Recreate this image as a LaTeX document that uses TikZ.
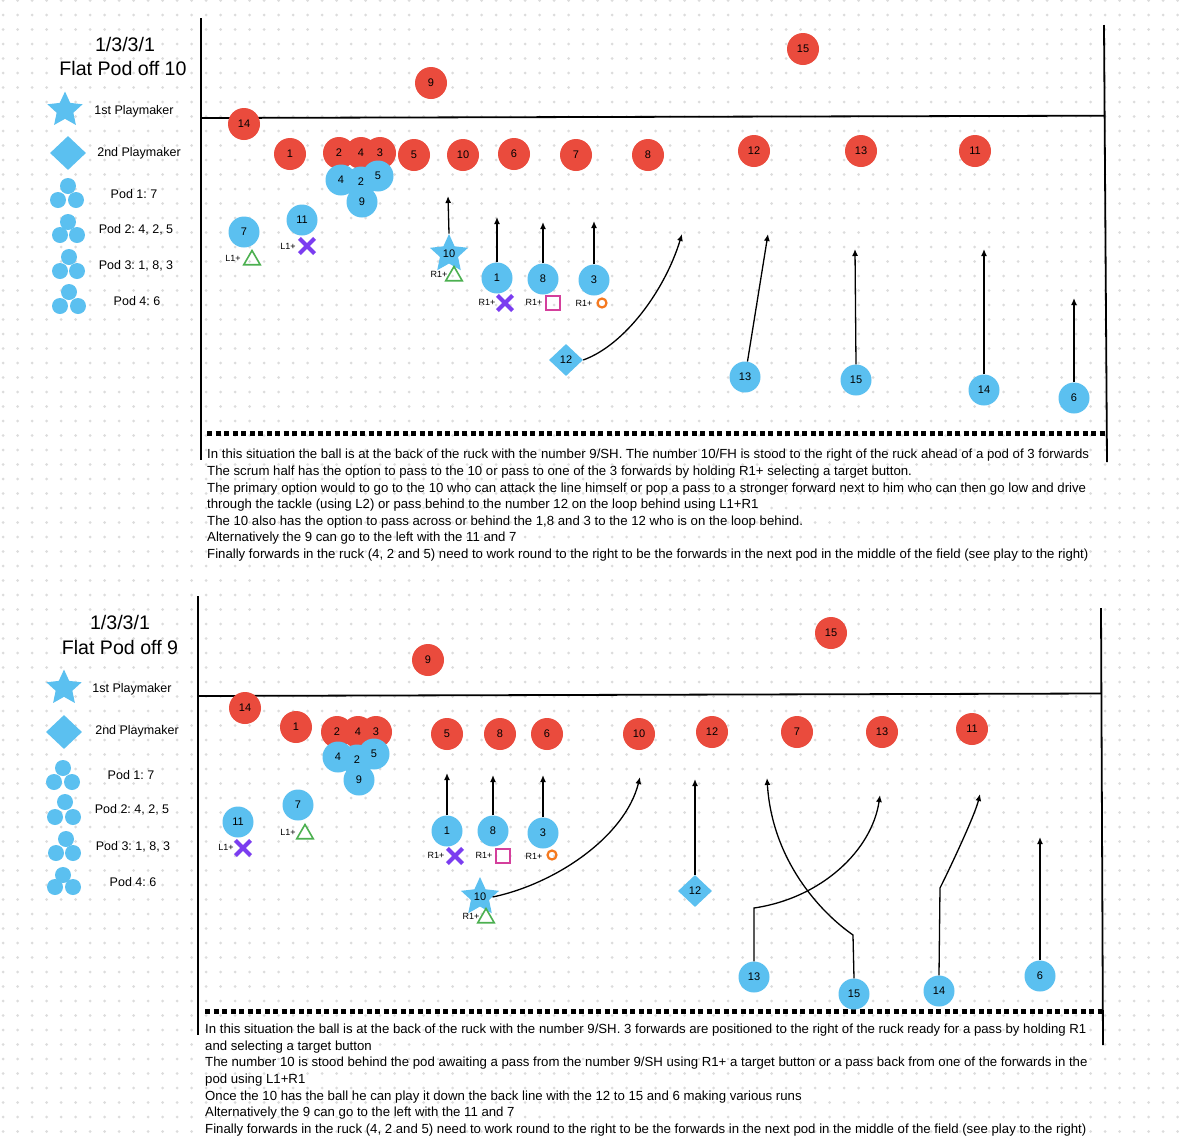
\documentclass[tikz,border=0pt]{standalone}
\usepackage{fontspec}
\setmainfont{Liberation Sans}
\usetikzlibrary{shapes.geometric,shapes.misc,arrows.meta}
\frenchspacing
\definecolor{rd}{HTML}{EA4B3D}
\definecolor{bl}{HTML}{5BC0F0}
\definecolor{dotc}{HTML}{DCDCDC}
\definecolor{gr}{HTML}{4CB050}
\definecolor{pu}{HTML}{7B3DF0}
\definecolor{pk}{HTML}{D43F9C}
\definecolor{orr}{HTML}{F5791F}
\tikzset{
 nfont/.style={font=\fontsize{11}{11}\selectfont},
 rp/.style={circle,fill=rd,minimum size=32pt,inner sep=0pt,nfont},
 bp/.style={circle,fill=bl,minimum size=31pt,inner sep=0pt,nfont},
 rpt/.style={circle,minimum size=32pt,inner sep=0pt,nfont},
 bpt/.style={circle,minimum size=31pt,inner sep=0pt,nfont},
 sp/.style={star,star points=5,star point ratio=2.1,fill=bl,minimum size=40pt,inner sep=0pt,nfont},
 dp/.style={diamond,fill=bl,minimum width=34pt,minimum height=32pt,inner sep=0pt,nfont},
 lgs/.style={star,star points=5,star point ratio=2.1,fill=bl,minimum size=37pt,inner sep=0pt},
 lgd/.style={diamond,fill=bl,minimum width=36pt,minimum height=34pt,inner sep=0pt},
 pc/.style={circle,fill=bl,minimum size=16pt,inner sep=0pt},
 ttl/.style={font=\fontsize{19.6}{24}\selectfont,inner sep=0pt},
 lgt/.style={font=\fontsize{12.5}{14}\selectfont,inner sep=0pt},
 btn/.style={font=\fontsize{9}{9}\selectfont,inner sep=0pt},
 tri/.style={regular polygon,regular polygon sides=3,draw=gr,line width=1.6pt,minimum size=19pt,inner sep=0pt},
 xx/.style={cross out,draw=pu,line width=4.2pt,minimum size=11pt,inner sep=0pt},
 sq/.style={rectangle,draw=pk,line width=1.6pt,minimum size=14pt,inner sep=0pt},
 oo/.style={circle,draw=orr,line width=2.2pt,minimum size=9pt,inner sep=0pt},
 arr/.style={-{Latex[length=7pt,width=6pt]},line width=1.3pt},
 fld/.style={line width=1.8pt},
 dsh/.style={line width=5pt,dash pattern=on 5pt off 3.5pt},
 dtxt/.style={anchor=west,inner sep=0pt,font=\fontsize{13.2}{15}\selectfont,text height=9.5pt,text depth=2.5pt},
}
\begin{document}
\begin{tikzpicture}[x=1pt,y=-1pt]
\useasboundingbox[fill=white] (0,0) rectangle (1179,1136);
% dot grid
\foreach \i in {0,...,81}{\foreach \j in {0,...,78}{\fill[dotc] (3.2+\i*14.5,0.5+\j*14.5) circle[radius=1.5];}}

%%%%%%%%%%%%%%%% TOP PLAY %%%%%%%%%%%%%%%%
\node[ttl] (t-title1) at (125,44) {1/3/3/1};
\node[ttl] (t-title2) at (123,68) {Flat Pod off 10};
\node[lgs] (t-lstar) at (65,110) {};
\node[lgt] (t-l1) at (134,111) {1st Playmaker};
\node[lgd] (t-ldia) at (68,153) {};
\node[lgt] (t-l2) at (139,153) {2nd Playmaker};
\node[pc] (t-p1a) at (68,186) {}; \node[pc] (t-p1b) at (58,200) {}; \node[pc] (t-p1c) at (76,200) {};
\node[lgt] (t-lp1) at (134,194) {Pod 1: 7};
\node[pc] (t-p2a) at (68,222) {}; \node[pc] (t-p2b) at (60,235) {}; \node[pc] (t-p2c) at (77,235) {};
\node[lgt] (t-lp2) at (136,230) {Pod 2: 4, 2, 5};
\node[pc] (t-p3a) at (69,257) {}; \node[pc] (t-p3b) at (60,271) {}; \node[pc] (t-p3c) at (77,271) {};
\node[lgt] (t-lp3) at (136,266) {Pod 3: 1, 8, 3};
\node[pc] (t-p4a) at (69,292) {}; \node[pc] (t-p4b) at (60,306) {}; \node[pc] (t-p4c) at (78,306) {};
\node[lgt] (t-lp4) at (137,301) {Pod 4: 6};

\draw[fld] (201,18) -- (201,460);
\draw[fld] (1104,25) -- (1107,462);
\draw[fld] (201,118) -- (1104,115.7);
\draw[dsh] (207,433) -- (1105,433);

% red team
\node[rp] (t-r15) at (803,49) {15};
\node[rp] (t-r9) at (431,83) {9};
\node[rp] (t-r14) at (244,124) {14};
\node[rp] (t-r1) at (290,154) {1};
\fill[rd] (339,153) circle[radius=16] (361,153) circle[radius=16] (380,153) circle[radius=16];
\node[rpt] (t-r2) at (339,153) {2};
\node[rpt] (t-r4) at (361,153) {4};
\node[rpt] (t-r3) at (380,153) {3};
\node[rp] (t-r5) at (414,155) {5};
\node[rp] (t-r10) at (463,155) {10};
\node[rp] (t-r6) at (514,154) {6};
\node[rp] (t-r7) at (576,155) {7};
\node[rp] (t-r8) at (648,155) {8};
\node[rp] (t-r12) at (754,151) {12};
\node[rp] (t-r13) at (861,151) {13};
\node[rp] (t-r11) at (975,151) {11};

% blue team
\fill[bl] (341,180) circle[radius=15.5] (361,182) circle[radius=15.5] (378,176) circle[radius=15.5] (362,202) circle[radius=15.5];
\node[bpt] (t-b4) at (341,180) {4};
\node[bpt] (t-b2) at (361,182) {2};
\node[bpt] (t-b5) at (378,176) {5};
\node[bpt] (t-b9) at (362,202) {9};
\node[bp] (t-b7) at (244,232) {7};
\node[bp] (t-b11) at (302,220) {11};
\node[sp] (t-s10) at (449,254) {10};
\node[bp] (t-b1) at (497,278) {1};
\node[bp] (t-b8) at (543,279) {8};
\node[bp] (t-b3) at (594,280) {3};
\node[dp] (t-d12) at (566,360) {12};
\node[bp] (t-b13) at (745,377) {13};
\node[bp] (t-b15) at (856,380) {15};
\node[bp] (t-b14) at (984,390) {14};
\node[bp] (t-b6) at (1074,398) {6};

% buttons
\node[btn] (t-k7) at (233,258) {L1+}; \node[tri] (t-k7s) at (252,260) {};
\node[btn] (t-k11) at (288,246) {L1+}; \node[xx] (t-k11s) at (307,246) {};
\node[btn] (t-k10) at (439,274) {R1+}; \node[tri] (t-k10s) at (454,276) {};
\node[btn] (t-k1) at (487,302) {R1+}; \node[xx] (t-k1s) at (505,303) {};
\node[btn] (t-k8) at (534,302) {R1+}; \node[sq] (t-k8s) at (553,303) {};
\node[btn] (t-k3) at (584,303) {R1+}; \node[oo] (t-k3s) at (602,303) {};

% runs
\coordinate (t-a10) at (448,196);
\coordinate (t-a1) at (497,217);
\coordinate (t-a8) at (543,222);
\coordinate (t-a3) at (594,221);
\coordinate (t-a12) at (682,234);
\coordinate (t-a13) at (768,234);
\coordinate (t-a15) at (855,249);
\coordinate (t-a14) at (984,249);
\coordinate (t-a6) at (1074,298);
\draw[arr] (t-s10.north) -- (t-a10);
\draw[arr] (t-b1.north) -- (t-a1);
\draw[arr] (t-b8.north) -- (t-a8);
\draw[arr] (t-b3.north) -- (t-a3);
\draw[arr] (t-d12.east) .. controls (625,345) and (665,290) .. (t-a12);
\draw[arr] (t-b13) -- (t-a13);
\draw[arr] (t-b15.north) -- (t-a15);
\draw[arr] (t-b14.north) -- (t-a14);
\draw[arr] (t-b6.north) -- (t-a6);

% description
\node[dtxt] (t-d1) at (207,455) {In this situation the ball is at the back of the ruck with the number 9/SH. The number 10/FH is stood to the right of the ruck ahead of a pod of 3 forwards};
\node[dtxt] (t-d2) at (207,472) {The scrum half has the option to pass to the 10 or pass to one of the 3 forwards by holding R1+ selecting a target button.};
\node[dtxt] (t-d3) at (207,489) {The primary option would to go to the 10 who can attack the line himself or pop a pass to a stronger forward next to him who can then go low and drive};
\node[dtxt] (t-d4) at (207,505) {through the tackle (using L2) or pass behind to the number 12 on the loop behind using L1+R1};
\node[dtxt] (t-d5) at (207,522) {The 10 also has the option to pass across or behind the 1,8 and 3 to the 12 who is on the loop behind.};
\node[dtxt] (t-d6) at (207,538) {Alternatively the 9 can go to the left with the 11 and 7};
\node[dtxt] (t-d7) at (207,555) {Finally forwards in the ruck (4, 2 and 5) need to work round to the right to be the forwards in the next pod in the middle of the field (see play to the right)};

%%%%%%%%%%%%%%%% BOTTOM PLAY %%%%%%%%%%%%%%%%
\node[ttl] (b-title1) at (120,622) {1/3/3/1};
\node[ttl] (b-title2) at (120,647) {Flat Pod off 9};
\node[lgs] (b-lstar) at (64,688) {};
\node[lgt] (b-l1) at (132,689) {1st Playmaker};
\node[lgd] (b-ldia) at (64,732) {};
\node[lgt] (b-l2) at (137,731) {2nd Playmaker};
\node[pc] (b-p1a) at (63,768) {}; \node[pc] (b-p1b) at (54,782) {}; \node[pc] (b-p1c) at (72,782) {};
\node[lgt] (b-lp1) at (131,775) {Pod 1: 7};
\node[pc] (b-p2a) at (65,802) {}; \node[pc] (b-p2b) at (55,817) {}; \node[pc] (b-p2c) at (73,817) {};
\node[lgt] (b-lp2) at (132,810) {Pod 2: 4, 2, 5};
\node[pc] (b-p3a) at (66,839) {}; \node[pc] (b-p3b) at (56,853) {}; \node[pc] (b-p3c) at (73,853) {};
\node[lgt] (b-lp3) at (133,847) {Pod 3: 1, 8, 3};
\node[pc] (b-p4a) at (63,875) {}; \node[pc] (b-p4b) at (55,887) {}; \node[pc] (b-p4c) at (73,887) {};
\node[lgt] (b-lp4) at (133,882) {Pod 4: 6};

\draw[fld] (198,596) -- (198,1035);
\draw[fld] (1101,608) -- (1103,1045);
\draw[fld] (198,696) -- (1101,693.5);
\draw[dsh] (205,1011) -- (1103,1011);

% red team
\node[rp] (b-r15) at (831,633) {15};
\node[rp] (b-r9) at (428,660) {9};
\node[rp] (b-r14) at (245,708) {14};
\node[rp] (b-r1) at (296,727) {1};
\fill[rd] (337,732) circle[radius=16] (358,732) circle[radius=16] (376,732) circle[radius=16];
\node[rpt] (b-r2) at (337,732) {2};
\node[rpt] (b-r4) at (358,732) {4};
\node[rpt] (b-r3) at (376,732) {3};
\node[rp] (b-r5) at (447,734) {5};
\node[rp] (b-r8) at (500,734) {8};
\node[rp] (b-r6) at (547,734) {6};
\node[rp] (b-r10) at (639,734) {10};
\node[rp] (b-r12) at (712,732) {12};
\node[rp] (b-r7) at (797,732) {7};
\node[rp] (b-r13) at (882,732) {13};
\node[rp] (b-r11) at (972,729) {11};

% blue team
\fill[bl] (338,757) circle[radius=15.5] (357,760) circle[radius=15.5] (374,754) circle[radius=15.5] (359,780) circle[radius=15.5];
\node[bpt] (b-b4) at (338,757) {4};
\node[bpt] (b-b2) at (357,760) {2};
\node[bpt] (b-b5) at (374,754) {5};
\node[bpt] (b-b9) at (359,780) {9};
\node[bp] (b-b7) at (298,805) {7};
\node[bp] (b-b11) at (238,822) {11};
\node[bp] (b-b1) at (447,831) {1};
\node[bp] (b-b8) at (493,831) {8};
\node[bp] (b-b3) at (543,833) {3};
\node[sp] (b-s10) at (480,897) {10};
\node[dp] (b-d12) at (695,891) {12};
\node[bp] (b-b13) at (754,977) {13};
\node[bp] (b-b15) at (854,994) {15};
\node[bp] (b-b14) at (939,991) {14};
\node[bp] (b-b6) at (1040,976) {6};

% buttons
\node[btn] (b-k11) at (226,847) {L1+}; \node[xx] (b-k11s) at (243,848) {};
\node[btn] (b-k7) at (288,832) {L1+}; \node[tri] (b-k7s) at (305,834) {};
\node[btn] (b-k1) at (436,855) {R1+}; \node[xx] (b-k1s) at (455,856) {};
\node[btn] (b-k8) at (484,855) {R1+}; \node[sq] (b-k8s) at (503,856) {};
\node[btn] (b-k3) at (534,856) {R1+}; \node[oo] (b-k3s) at (552,855) {};
\node[btn] (b-k10) at (471,916) {R1+}; \node[tri] (b-k10s) at (486,918) {};

% runs
\coordinate (b-a1) at (447,773);
\coordinate (b-a8) at (493,775);
\coordinate (b-a3) at (543,775);
\coordinate (b-a10) at (640,777);
\coordinate (b-a12) at (695,779);
\coordinate (b-k13) at (754,908);
\coordinate (b-a13) at (880,795);
\coordinate (b-k15) at (853,935);
\coordinate (b-a15) at (767,778);
\coordinate (b-k14) at (940,888);
\coordinate (b-a14) at (980,794);
\coordinate (b-a6) at (1040,837);
\draw[arr] (b-b1.north) -- (b-a1);
\draw[arr] (b-b8.north) -- (b-a8);
\draw[arr] (b-b3.north) -- (b-a3);
\draw[arr] (b-s10.east) .. controls (555,884) and (625,837) .. (b-a10);
\draw[arr] (b-d12.north) -- (b-a12);
\draw[arr] (b-b13.north) -- (b-k13) .. controls (822,898) and (872,850) .. (b-a13);
\draw[arr] (b-b15.north) -- (b-k15) .. controls (820,912) and (772,860) .. (b-a15);
\draw[arr] (b-b14.north) -- (b-k14) .. controls (950,868) and (975,815) .. (b-a14);
\draw[arr] (b-b6.north) -- (b-a6);

% description
\node[dtxt] (b-d1) at (205,1030) {In this situation the ball is at the back of the ruck with the number 9/SH. 3 forwards are positioned to the right of the ruck ready for a pass by holding R1};
\node[dtxt] (b-d2) at (205,1047) {and selecting a target button};
\node[dtxt] (b-d3) at (205,1063) {The number 10 is stood behind the pod awaiting a pass from the number 9/SH using R1+ a target button or a pass back from one of the forwards in the};
\node[dtxt] (b-d4) at (205,1080) {pod using L1+R1};
\node[dtxt] (b-d5) at (205,1097) {Once the 10 has the ball he can play it down the back line with the 12 to 15 and 6 making various runs};
\node[dtxt] (b-d6) at (205,1113) {Alternatively the 9 can go to the left with the 11 and 7};
\node[dtxt] (b-d7) at (205,1130) {Finally forwards in the ruck (4, 2 and 5) need to work round to the right to be the forwards in the next pod in the middle of the field (see play to the right)};
\end{tikzpicture}
\end{document}
